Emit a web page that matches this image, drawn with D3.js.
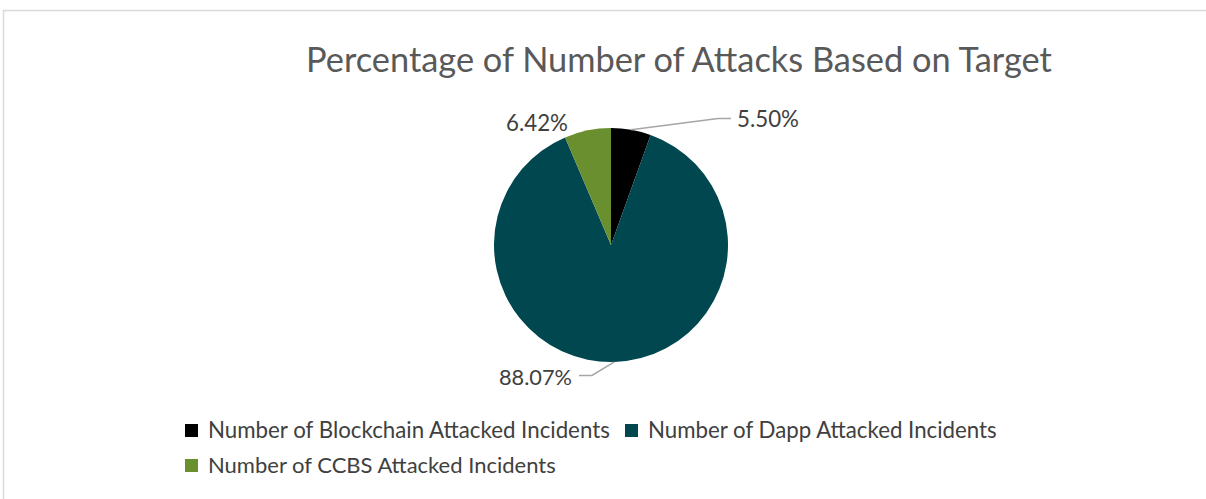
<!DOCTYPE html>
<html>
<head>
<meta charset="utf-8">
<script src="https://cdn.jsdelivr.net/npm/d3@7"></script>
<style>
  html, body { margin: 0; padding: 0; background: #fff; }
  svg { display: block; }
  text { font-family: Lato, "Open Sans", sans-serif; }
</style>
</head>
<body>
<svg id="chart" width="1206" height="499"></svg>
<script>
// Share of attacks by target (percent)
const categories = [
  "Number of Blockchain Attacked Incidents",
  "Number of Dapp Attacked Incidents",
  "Number of CCBS Attacked Incidents"
];
const values = [5.50, 88.07, 6.42];
const valueLabels = ["5.50%", "88.07%", "6.42%"];
const colors = ["#000000", "#01474F", "#6A8F2E"];
const title = "Percentage of Number of Attacks Based on Target";

const svg = d3.select("#chart");
const W = 1206, H = 499;

// chart frame
svg.append("rect")
  .attr("x", 3.5).attr("y", 10.5)
  .attr("width", W + 10).attr("height", H + 10)
  .attr("fill", "#fff").attr("stroke", "#d9d9d9").attr("stroke-width", 1.5);

// helper: size text so it spans the given width
function fitText(sel, targetWidth, baseSize) {
  sel.attr("font-size", baseSize);
  const w = sel.node().getComputedTextLength();
  sel.attr("font-size", baseSize * targetWidth / w);
  return sel;
}

// title
const t = svg.append("text")
  .attr("x", 679).attr("y", 72)
  .attr("text-anchor", "middle")
  .attr("fill", "#595959")
  .text(title);
fitText(t, 746, 30);

// pie
const cx = 611, cy = 245, r = 117;
const pie = d3.pie().sort(null).value(d => d)(values);
const arc = d3.arc().innerRadius(0).outerRadius(r);
const g = svg.append("g").attr("transform", `translate(${cx},${cy})`);
g.selectAll("path.slice")
  .data(pie)
  .join("path")
  .attr("class", "slice")
  .attr("d", arc)
  .attr("fill", (d, i) => colors[i]);

// data labels with leader lines where used
const edge = d3.arc().innerRadius(r).outerRadius(r);
const labelPos = [
  { x: 737, y: 127, anchor: "start", leader: [[718, 118.5], [731, 118.5]] },
  { x: 572, y: 385, anchor: "end", leader: [[592, 375.5], [579, 375.5]] },
  { x: 568, y: 131, anchor: "end", leader: null }
];
pie.forEach((d, i) => {
  const p = labelPos[i];
  if (p.leader) {
    const c = edge.centroid(d);
    const pts = [[cx + c[0], cy + c[1]], ...p.leader];
    svg.append("path")
      .attr("d", d3.line()(pts))
      .attr("fill", "none")
      .attr("stroke", "#a6a6a6")
      .attr("stroke-width", 1.5);
  }
  const lbl = svg.append("text")
    .attr("x", p.x).attr("y", p.y)
    .attr("text-anchor", p.anchor)
    .attr("fill", "#404040")
    .text(valueLabels[i]);
  fitText(lbl, i === 1 ? 73 : 62, 20);
});

// legend
const legendItems = [
  { sx: 185, sy: 424, tx: 208, ty: 438 },
  { sx: 625, sy: 424, tx: 648, ty: 438 },
  { sx: 185, sy: 459, tx: 208, ty: 473 }
];
const legendWidths = [402, 349, 348];
categories.forEach((name, i) => {
  const it = legendItems[i];
  svg.append("rect")
    .attr("x", it.sx).attr("y", it.sy)
    .attr("width", 13).attr("height", 13)
    .attr("fill", colors[i]);
  const lt = svg.append("text")
    .attr("x", it.tx).attr("y", it.ty)
    .attr("fill", "#404040")
    .text(name);
  fitText(lt, legendWidths[i], 19);
});
</script>
</body>
</html>
